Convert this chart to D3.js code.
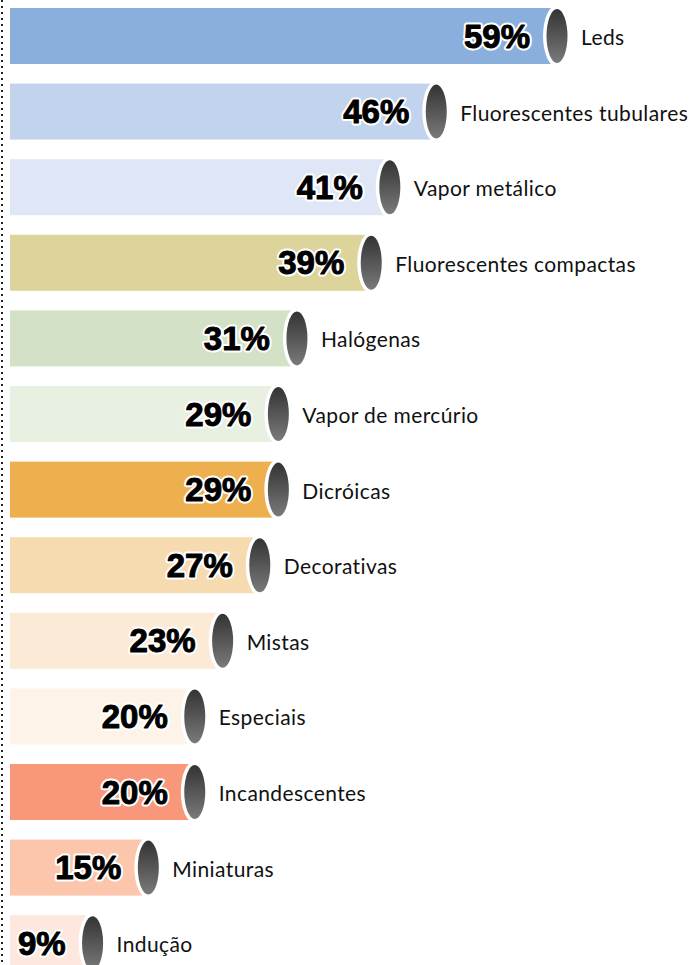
<!DOCTYPE html>
<html>
<head>
<meta charset="utf-8">
<script src="https://cdn.jsdelivr.net/npm/d3@7"></script>
<style>
  body { margin: 0; background: #fff; }
  svg { display: block; }
</style>
</head>
<body>
<div id="chart"></div>
<script>
// Data
const categories = ["Leds", "Fluorescentes tubulares", "Vapor metálico", "Fluorescentes compactas",
  "Halógenas", "Vapor de mercúrio", "Dicróicas", "Decorativas", "Mistas", "Especiais",
  "Incandescentes", "Miniaturas", "Indução"];
const values = [59, 46, 41, 39, 31, 29, 29, 27, 23, 20, 20, 15, 9];
const colors = ["#8aafdc", "#c2d3ed", "#dfe7f6", "#dcd49a", "#d3e1c6", "#e8f0e1", "#eeb04e",
  "#f6dbb0", "#fbebd6", "#fdf3e8", "#f8977a", "#fcc6ad", "#fde7de"];

const width = 692, height = 965;
const step = 75.6, barH = 56;

const svg = d3.select("#chart").append("svg")
  .attr("width", width)
  .attr("height", height);

// gradient for the cylinder caps
const grad = svg.append("defs").append("linearGradient")
  .attr("id", "cap")
  .attr("x1", 0).attr("y1", 0).attr("x2", 0).attr("y2", 1);
grad.append("stop").attr("offset", "0%").attr("stop-color", "#333");
grad.append("stop").attr("offset", "100%").attr("stop-color", "#7a7a7a");

const x = d3.scaleLinear()
  .domain([0, 59])
  .range([9, 557]);

const y = d3.scaleBand()
  .domain(categories)
  .range([8, 8 + 12 * step + barH])
  .paddingInner((step - barH) / step)
  .paddingOuter(0);

// dotted axis line on the left
svg.append("line")
  .attr("x1", 2).attr("x2", 2)
  .attr("y1", 0).attr("y2", height)
  .attr("stroke", "#222")
  .attr("stroke-width", 2)
  .attr("stroke-dasharray", "2,4");

const rows = svg.selectAll("g.row")
  .data(categories.map((c, i) => ({ name: c, value: values[i], color: colors[i] })))
  .enter().append("g")
  .attr("class", "row")
  .attr("transform", d => `translate(0,${y(d.name)})`);

const bh = y.bandwidth();

rows.append("rect")
  .attr("x", 10)
  .attr("y", 0)
  .attr("width", d => x(d.value) - 10)
  .attr("height", bh)
  .attr("fill", d => d.color);

// white ring round the cap
rows.append("ellipse")
  .attr("cx", d => x(d.value))
  .attr("cy", bh / 2)
  .attr("rx", 14)
  .attr("ry", 31)
  .attr("fill", "#fff");

rows.append("ellipse")
  .attr("cx", d => x(d.value))
  .attr("cy", bh / 2)
  .attr("rx", 10.5)
  .attr("ry", 27)
  .attr("fill", "url(#cap)");

// percentage labels: white halo, then heavy black
function pctText(sel, stroke, sw) {
  return sel.append("text")
    .attr("x", d => x(d.value) - 27)
    .attr("y", bh / 2 + 11.5)
    .attr("text-anchor", "end")
    .attr("font-family", "'Liberation Sans', Arial, sans-serif")
    .attr("font-weight", "bold")
    .attr("font-size", "33px")
    .attr("fill", "#000")
    .attr("stroke", stroke)
    .attr("stroke-width", sw)
    .attr("stroke-linejoin", "round")
    .text(d => d.value + "%");
}
pctText(rows, "#fff", 5);
pctText(rows, "#000", 1);

// category labels
rows.append("text")
  .attr("x", d => x(d.value) + 24)
  .attr("y", bh / 2 + 9)
  .attr("font-family", "Lato, 'Noto Sans', sans-serif")
  .attr("font-size", "21px")
  .attr("letter-spacing", "0.4px")
  .attr("fill", "#111")
  .text(d => d.name);
</script>
</body>
</html>
